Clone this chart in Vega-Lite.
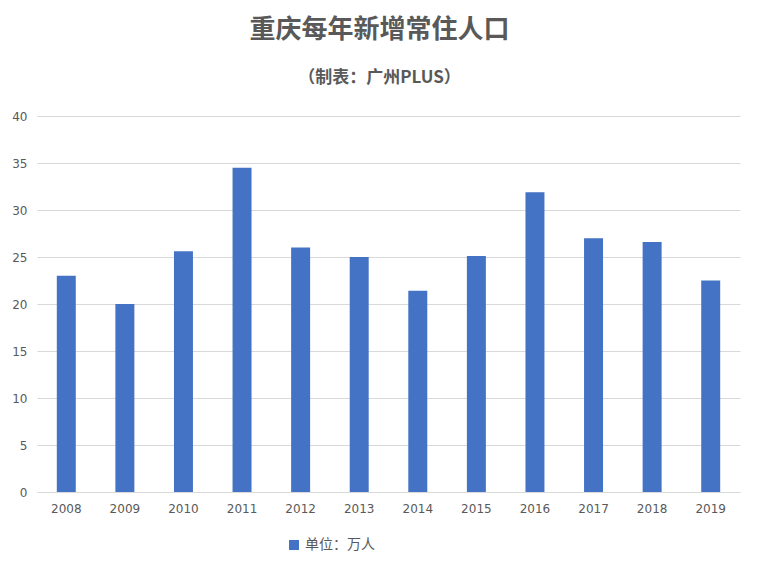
{
  "$schema": "https://vega.github.io/schema/vega-lite/v6.json",
  "autosize": {"type": "none"},
  "width": 703,
  "height": 376,
  "padding": {"left": 37, "top": 116, "right": 19, "bottom": 79},
  "background": "white",
  "config": {
    "view": {"stroke": null},
    "font": "Noto Sans CJK SC"
  },
  "title": {
    "text": "重庆每年新增常住人口",
    "subtitle": "（制表：广州PLUS）",
    "anchor": "middle",
    "dx": -9,
    "offset": 24,
    "font": "Noto Sans CJK SC",
    "fontSize": 26,
    "fontWeight": "bold",
    "color": "#595959",
    "subtitleFont": "Noto Sans CJK SC",
    "subtitleFontSize": 17,
    "subtitleFontWeight": "bold",
    "subtitleColor": "#595959",
    "subtitlePadding": 27
  },
  "data": {
    "values": [
      {"year": "2008", "value": 23.0, "series": "单位：万人"},
      {"year": "2009", "value": 20.0, "series": "单位：万人"},
      {"year": "2010", "value": 25.6, "series": "单位：万人"},
      {"year": "2011", "value": 34.5, "series": "单位：万人"},
      {"year": "2012", "value": 26.0, "series": "单位：万人"},
      {"year": "2013", "value": 25.0, "series": "单位：万人"},
      {"year": "2014", "value": 21.4, "series": "单位：万人"},
      {"year": "2015", "value": 25.1, "series": "单位：万人"},
      {"year": "2016", "value": 31.9, "series": "单位：万人"},
      {"year": "2017", "value": 27.0, "series": "单位：万人"},
      {"year": "2018", "value": 26.6, "series": "单位：万人"},
      {"year": "2019", "value": 22.5, "series": "单位：万人"}
    ]
  },
  "mark": {"type": "bar"},
  "encoding": {
    "x": {
      "field": "year",
      "type": "nominal",
      "sort": null,
      "scale": {"paddingInner": 0.676, "paddingOuter": 0.338},
      "axis": {
        "title": null,
        "labelAngle": 0,
        "ticks": false,
        "domainColor": "#d9d9d9",
        "labelColor": "#595959",
        "labelFontSize": 12,
        "labelFont": "DejaVu Sans",
        "labelPadding": 11
      }
    },
    "y": {
      "field": "value",
      "type": "quantitative",
      "scale": {"domain": [0, 40]},
      "axis": {
        "title": null,
        "values": [0, 5, 10, 15, 20, 25, 30, 35, 40],
        "ticks": false,
        "domain": false,
        "gridColor": "#d9d9d9",
        "labelColor": "#595959",
        "labelFontSize": 12,
        "labelFont": "DejaVu Sans",
        "labelPadding": 10
      }
    },
    "color": {
      "field": "series",
      "type": "nominal",
      "scale": {"range": ["#4472C4"]},
      "legend": {
        "title": null,
        "orient": "none",
        "legendX": 250,
        "legendY": 422,
        "symbolType": "square",
        "symbolSize": 100,
        "labelFontSize": 14,
        "labelColor": "#595959",
        "labelFont": "Noto Sans CJK SC"
      }
    }
  }
}
